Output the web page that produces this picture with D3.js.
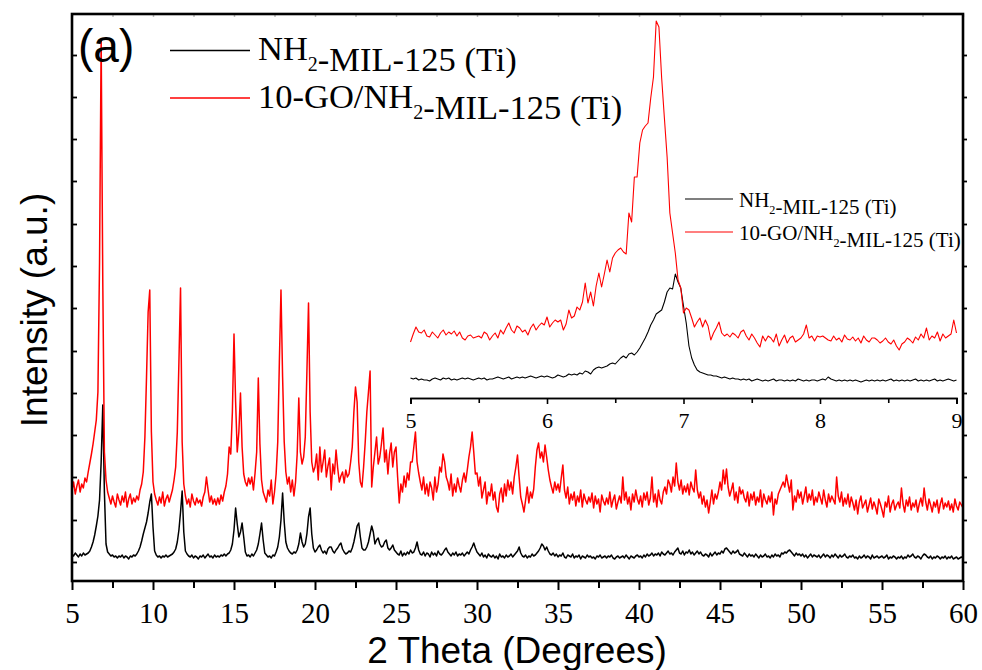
<!DOCTYPE html>
<html>
<head>
<meta charset="utf-8">
<script src="https://cdn.jsdelivr.net/npm/d3@7"></script>
<style>
  body { margin: 0; background: #fff; }
  svg { display: block; }
  .serif-text text { font-family: "Liberation Serif", "Times New Roman", serif; }
</style>
</head>
<body>
<svg id="chart" width="982" height="670"></svg>
<script>
// XRD patterns, 2θ scan from 5° to 60° in 0.1° steps, intensity in a.u.
const scanStart = 5;
const scanStep = 0.1;

const pristine = [
  8, 6, 9, 7, 5, 8, 6, 9, 7, 8,
  9, 11, 15, 20, 27, 36, 46, 62, 100, 157,
  70, 18, 10, 8, 6, 7, 5, 6, 4, 6,
  5, 7, 4, 6, 5, 3, 6, 5, 7, 6,
  8, 11, 15, 21, 28, 34, 40, 49, 60, 68,
  35, 11, 7, 5, 6, 4, 6, 5, 7, 5,
  6, 7, 8, 10, 13, 20, 32, 50, 71, 30,
  11, 8, 6, 5, 7, 4, 6, 5, 3, 6,
  5, 7, 4, 6, 8, 5, 6, 4, 7, 5,
  6, 5, 7, 6, 8, 6, 8, 9, 12, 18,
  32, 54, 38, 25, 30, 39, 25, 10, 6, 7,
  5, 8, 6, 9, 12, 18, 28, 39, 22, 9,
  7, 5, 6, 4, 7, 6, 10, 15, 25, 42,
  69, 40, 20, 14, 11, 9, 8, 10, 9, 12,
  18, 29, 20, 15, 18, 28, 45, 54, 28, 14,
  10, 12, 15, 17, 12, 9, 11, 8, 13, 15,
  15, 11, 9, 12, 14, 17, 19, 13, 10, 8,
  9, 11, 10, 14, 20, 28, 36, 39, 25, 14,
  12, 12, 15, 20, 28, 36, 30, 18, 22, 24,
  18, 15, 16, 20, 22, 14, 12, 14, 17, 12,
  10, 8, 7, 11, 6, 9, 7, 10, 8, 12,
  9, 10, 14, 20, 12, 8, 7, 10, 6, 9,
  8, 5, 10, 7, 9, 6, 11, 8, 7, 9,
  12, 14, 10, 8, 6, 9, 7, 10, 6, 8,
  7, 9, 6, 8, 10, 8, 12, 15, 19, 14,
  10, 8, 6, 9, 5, 7, 4, 8, 6, 5,
  7, 4, 6, 3, 8, 5, 6, 4, 7, 5,
  6, 8, 5, 7, 9, 11, 15, 9, 6, 5,
  7, 4, 6, 5, 8, 6, 7, 9, 11, 14,
  18, 16, 12, 15, 11, 8, 7, 9, 6, 8,
  5, 7, 6, 9, 5, 4, 7, 6, 5, 8,
  4, 6, 5, 7, 3, 6, 5, 4, 7, 5,
  6, 4, 5, 3, 6, 5, 7, 4, 5, 6,
  4, 6, 5, 7, 4, 3, 5, 6, 4, 5,
  6, 4, 7, 5, 3, 6, 5, 4, 6, 7,
  5, 6, 4, 7, 5, 8, 6, 7, 9, 6,
  8, 7, 9, 6, 10, 8, 7, 9, 11, 8,
  9, 7, 10, 12, 14, 9, 8, 11, 7, 10,
  9, 12, 8, 10, 7, 9, 11, 8, 10, 7,
  6, 8, 7, 5, 9, 6, 8, 10, 7, 9,
  8, 11, 9, 13, 14, 12, 10, 8, 11, 9,
  10, 12, 8, 7, 6, 9, 7, 5, 8, 6,
  7, 5, 8, 6, 4, 7, 5, 6, 8, 5,
  6, 4, 7, 5, 8, 6, 7, 5, 9, 8,
  10, 9, 11, 12, 10, 8, 6, 9, 7, 8,
  6, 8, 5, 7, 4, 6, 8, 5, 7, 6,
  5, 7, 4, 6, 8, 5, 7, 6, 4, 7,
  5, 8, 6, 4, 7, 5, 6, 8, 5, 4,
  6, 5, 7, 4, 5, 3, 6, 4, 5, 7,
  4, 6, 5, 3, 7, 4, 5, 6, 4, 5,
  6, 4, 5, 7, 3, 5, 4, 6, 5, 3,
  5, 4, 6, 3, 5, 4, 7, 5, 6, 8,
  5, 4, 6, 5, 3, 6, 8, 7, 5, 4,
  6, 3, 5, 4, 6, 5, 3, 5, 4, 6,
  3, 5, 4, 6, 3, 4, 5, 3, 4, 5,
  4
];

const composite = [
  72, 80, 68, 76, 82, 70, 78, 74, 84, 80,
  90, 99, 108, 118, 130, 142, 170, 300, 522, 280,
  110, 82, 70, 64, 58, 66, 60, 55, 68, 62,
  57, 66, 60, 70, 55, 63, 68, 58, 64, 60,
  66, 62, 72, 78, 90, 125, 185, 250, 272, 130,
  80, 68, 62, 57, 65, 59, 70, 56, 63, 67,
  60, 66, 72, 82, 95, 130, 200, 274, 120, 78,
  66, 58, 63, 55, 68, 61, 57, 64, 59, 62,
  56, 65, 70, 85, 72, 60, 66, 58, 63, 57,
  64, 58, 67, 61, 70, 76, 88, 115, 108, 150,
  228, 160, 110, 130, 169, 115, 88, 80, 76, 84,
  78, 85, 72, 89, 110, 184, 118, 82, 70, 65,
  60, 72, 66, 82, 58, 70, 88, 120, 200, 272,
  185, 120, 90, 78, 85, 70, 82, 66, 80, 108,
  164, 110, 98, 105, 125, 190, 259, 150, 100, 90,
  95, 108, 82, 115, 90, 100, 112, 85, 96, 104,
  72, 98, 88, 112, 94, 80, 86, 90, 79, 92,
  85, 88, 100, 115, 150, 175, 160, 100, 80, 75,
  95, 120, 150, 170, 191, 75, 95, 110, 125, 98,
  105, 118, 134, 100, 112, 88, 108, 119, 95, 110,
  115, 85, 59, 78, 70, 86, 75, 89, 82, 100,
  100, 115, 130, 100, 89, 80, 72, 85, 68, 78,
  66, 80, 74, 62, 85, 70, 78, 95, 90, 108,
  100, 85, 80, 72, 88, 66, 78, 70, 84, 76,
  70, 82, 89, 80, 92, 105, 115, 130, 110, 88,
  89, 76, 85, 64, 72, 80, 58, 70, 66, 78,
  62, 70, 55, 50, 68, 74, 60, 78, 66, 82,
  72, 80, 68, 85, 95, 107, 85, 65, 58, 50,
  62, 75, 59, 70, 64, 73, 95, 112, 119, 104,
  110, 100, 117, 105, 92, 82, 75, 69, 80, 72,
  78, 70, 84, 97, 72, 64, 75, 58, 68, 62,
  70, 56, 66, 60, 72, 55, 68, 62, 58, 65,
  60, 69, 54, 66, 58, 63, 50, 67, 61, 57,
  64, 58, 70, 55, 62, 67, 53, 60, 66, 59,
  85, 62, 70, 58, 65, 52, 68, 60, 72, 63,
  58, 66, 55, 69, 62, 70, 57, 64, 85, 60,
  68, 55, 72, 62, 58, 70, 75, 68, 82, 78,
  70, 85, 76, 99, 80, 72, 82, 68, 76, 70,
  78, 67, 80, 74, 70, 92, 72, 64, 70, 58,
  66, 55, 62, 49, 60, 72, 58, 68, 63, 70,
  80, 72, 92, 78, 93, 75, 66, 72, 79, 62,
  70, 59, 75, 68, 72, 64, 60, 70, 56, 68,
  62, 70, 57, 65, 60, 72, 55, 68, 62, 58,
  66, 60, 70, 47, 63, 58, 68, 72, 76, 80,
  75, 87, 78, 70, 82, 52, 66, 60, 72, 64,
  70, 58, 66, 75, 60, 68, 62, 72, 57, 65,
  60, 70, 64, 58, 72, 62, 55, 68, 60, 66,
  62, 58, 85, 66, 60, 70, 56, 64, 58, 68,
  55, 65, 59, 52, 62, 48, 60, 66, 54, 58,
  62, 50, 57, 64, 53, 60, 55, 48, 63, 58,
  52, 45, 60, 55, 66, 50, 58, 62, 52, 57,
  60, 54, 74, 58, 50, 62, 56, 65, 52, 59,
  55, 62, 50, 58, 64, 56, 74, 60, 52, 63,
  57, 50, 60, 55, 62, 49, 58, 64, 53, 59,
  55, 61, 52, 58, 50, 63, 56, 52, 60, 57,
  54
];

// Low-angle detail, 2θ from 5° to 9° in 0.02° steps
const detailStart = 5;
const detailStep = 0.02;

const pristineDetail = [
  20, 19, 20, 18, 19, 18, 18, 17, 19, 20,
  19, 18, 20, 19, 20, 18, 19, 18, 19, 20,
  19, 20, 19, 18, 19, 20, 19, 20, 18, 19,
  19, 20, 21, 20, 19, 20, 21, 19, 20, 21,
  20, 21, 20, 21, 22, 21, 20, 21, 22, 21,
  22, 21, 20, 21, 23, 22, 21, 22, 24, 23,
  24, 23, 25, 24, 27, 26, 24, 28, 30, 31,
  30, 31, 32, 34, 35, 34, 37, 40, 42, 40,
  44, 45, 43, 46, 50, 55, 60, 66, 73, 78,
  84, 86, 88, 96, 106, 110, 109, 124, 116, 110,
  92, 75, 52, 40, 33, 28, 26, 25, 24, 23,
  23, 22, 22, 21, 20, 21, 20, 19, 20, 19,
  19, 18, 19, 18, 19, 17, 18, 19, 18, 17,
  18, 17, 18, 19, 17, 18, 18, 17, 18, 17,
  18, 17, 19, 18, 17, 18, 17, 18, 18, 17,
  18, 19, 18, 21, 19, 18, 17, 18, 17, 18,
  17, 18, 17, 18, 17, 16, 17, 18, 17, 18,
  17, 18, 17, 18, 17, 18, 19, 17, 18, 17,
  18, 17, 18, 17, 18, 19, 17, 18, 17, 18,
  17, 18, 19, 17, 18, 17, 18, 19, 18, 17,
  18
];

const compositeDetail = [
  56, 64, 71, 66, 65, 68, 62, 61, 66, 63,
  60, 65, 68, 63, 66, 64, 67, 62, 66, 60,
  58, 62, 63, 60, 61, 62, 60, 66, 64, 58,
  62, 65, 60, 68, 64, 70, 75, 68, 65, 72,
  70, 66, 68, 63, 70, 74, 68, 72, 75, 73,
  81, 71, 75, 78, 76, 78, 68, 74, 88, 80,
  82, 91, 88, 96, 115, 95, 106, 92, 112, 125,
  111, 124, 138, 126, 140, 145, 148, 150, 146, 144,
  185, 176, 221, 221, 255, 268, 272, 275, 300, 321,
  377, 371, 320, 280, 241, 185, 165, 145, 118, 110,
  85, 90, 88, 80, 71, 76, 80, 71, 78, 72,
  58, 65, 70, 76, 65, 62, 64, 61, 65, 63,
  60, 66, 68, 62, 58, 64, 60, 55, 51, 62,
  57, 62, 60, 56, 64, 52, 58, 63, 55, 60,
  62, 56, 58, 60, 64, 73, 60, 62, 57, 62,
  61, 62, 60, 58, 57, 62, 58, 60, 56, 63,
  59, 58, 61, 57, 60, 55, 62, 58, 56, 60,
  60, 58, 55, 57, 60, 56, 54, 58, 52, 48,
  54, 56, 60, 58, 55, 61, 58, 64, 60, 70,
  58, 62, 60, 66, 57, 64, 60, 62, 64, 78,
  65
];

const seriesLabels = ["NH2-MIL-125 (Ti)", "10-GO/NH2-MIL-125 (Ti)"];
const seriesColors = ["#000000", "#ff0000"];

const xTicksMain = [5, 10, 15, 20, 25, 30, 35, 40, 45, 50, 55, 60];
const xMinorMain = [7.5, 12.5, 17.5, 22.5, 27.5, 32.5, 37.5, 42.5, 47.5, 52.5, 57.5];
const yTicksMain = [0, 42, 85, 127, 169, 211, 254, 296, 338, 381, 423, 465, 507];
const xTicksInset = [5, 6, 7, 8, 9];
const xMinorInset = [5.5, 6.5, 7.5, 8.5];

const serif = "'Liberation Serif', 'Times New Roman', serif";
const sans = "'Liberation Sans', Arial, sans-serif";

const svg = d3.select("#chart");

// Main plot frame
const plot = { left: 72, right: 963, top: 14, bottom: 581 };
const x = d3.scaleLinear().domain([5, 60]).range([plot.left, plot.right]);
const y = d3.scaleLinear().domain([-19, 548]).range([plot.bottom, plot.top]);

// Inset frame (low-angle region)
const inset = { left: 410.5, right: 956.5, axisY: 398 };
const xi = d3.scaleLinear().domain([5, 9]).range([inset.left, inset.right]);
const yi = d3.scaleLinear().domain([0, 386]).range([inset.axisY, 12]);

const toPoints = (vals, start, step) => vals.map((v, i) => [start + i * step, v]);

const lineMain = d3.line().x(d => x(d[0])).y(d => y(d[1]));
const lineInset = d3.line().x(d => xi(d[0])).y(d => yi(d[1]));

// Patterns
[pristine, composite].forEach((vals, k) => {
  svg.append("path")
    .datum(toPoints(vals, scanStart, scanStep))
    .attr("d", lineMain)
    .attr("fill", "none")
    .attr("stroke", seriesColors[k])
    .attr("stroke-width", 1.5)
    .attr("stroke-linejoin", "round");
});

[pristineDetail, compositeDetail].forEach((vals, k) => {
  svg.append("path")
    .datum(toPoints(vals, detailStart, detailStep))
    .attr("d", lineInset)
    .attr("fill", "none")
    .attr("stroke", seriesColors[k])
    .attr("stroke-width", 1.1)
    .attr("stroke-linejoin", "round");
});

// Bottom axis
const gx = svg.append("g").attr("class", "serif-text").attr("transform", `translate(0,${plot.bottom})`);
gx.call(d3.axisBottom(x).tickValues(xTicksMain).tickSize(9).tickPadding(12).tickFormat(d3.format("d")));
gx.append("g").call(d3.axisBottom(x).tickValues(xMinorMain).tickSize(7).tickFormat(""));
gx.attr("font-family", serif).attr("font-size", 29);
gx.selectAll(".domain").remove();
gx.selectAll("line").attr("stroke", "#000").attr("stroke-width", 2);
gx.selectAll("text")
  .style("font-family", serif).style("font-size", "29px").attr("fill", "#000");

// Top axis (minor marks only)
const gt = svg.append("g").attr("transform", `translate(0,${plot.top})`);
gt.call(d3.axisTop(x).tickValues(xTicksMain.concat(xMinorMain)).tickSize(-3).tickFormat(""));
gt.selectAll(".domain").remove();
gt.selectAll("line").attr("stroke", "#bbb").attr("stroke-width", 1.5);

// Left axis, inward ticks
const gl = svg.append("g").attr("transform", `translate(${plot.left},0)`);
gl.call(d3.axisLeft(y).tickValues(yTicksMain).tickSize(-5).tickFormat(""));
gl.selectAll(".domain").remove();
gl.selectAll("line").attr("stroke", "#000").attr("stroke-width", 1.8);

// Right axis, outward ticks
const gr = svg.append("g").attr("transform", `translate(${plot.right},0)`);
gr.call(d3.axisRight(y).tickValues(yTicksMain).tickSize(4).tickFormat(""));
gr.selectAll(".domain").remove();
gr.selectAll("line").attr("stroke", "#000").attr("stroke-width", 1.8);

// Frame
svg.append("rect")
  .attr("x", plot.left).attr("y", plot.top)
  .attr("width", plot.right - plot.left).attr("height", plot.bottom - plot.top)
  .attr("fill", "none").attr("stroke", "#000").attr("stroke-width", 2.6);

// Inset axis
const gi = svg.append("g").attr("class", "serif-text").attr("transform", `translate(0,${inset.axisY})`);
gi.call(d3.axisBottom(xi).tickValues(xTicksInset).tickSize(6).tickPadding(8).tickFormat(d3.format("d")));
gi.append("g").call(d3.axisBottom(xi).tickValues(xMinorInset).tickSize(5).tickFormat(""));
gi.attr("font-family", serif).attr("font-size", 22);
gi.selectAll(".domain").attr("stroke", "#000").attr("stroke-width", 1.6);
gi.selectAll("line").attr("stroke", "#000").attr("stroke-width", 1.6);
gi.selectAll("text")
  .style("font-family", serif).style("font-size", "22px").attr("fill", "#000");

// Axis titles
svg.append("text")
  .attr("x", 517).attr("y", 663)
  .attr("text-anchor", "middle")
  .style("font-family", sans).style("font-size", "37px")
  .text("2 Theta (Degrees)");

svg.append("text")
  .attr("transform", "translate(47,310) rotate(-90)")
  .attr("text-anchor", "middle")
  .style("font-family", sans).style("font-size", "37px")
  .text("Intensity (a.u.)");

// Panel label
svg.append("text")
  .attr("x", 78).attr("y", 62)
  .style("font-family", sans).style("font-size", "46px")
  .text("(a)");

// Legends
function labelText(sel, label, subSize, subShift) {
  const parts = label.split("NH2");
  parts.forEach((p, i) => {
    sel.append("tspan").text(p + (i < parts.length - 1 ? "NH" : ""));
    if (i < parts.length - 1) {
      sel.append("tspan").style("font-size", subSize + "px").attr("dy", subShift).text("2");
      sel.append("tspan").attr("dy", -subShift).text("");
    }
  });
}

function legend(cfg) {
  seriesLabels.forEach((label, k) => {
    const cy = cfg.lineY[k];
    svg.append("line")
      .attr("x1", cfg.x1).attr("x2", cfg.x2).attr("y1", cy).attr("y2", cy)
      .attr("stroke", seriesColors[k]).attr("stroke-width", cfg.stroke);
    const t = svg.append("text")
      .attr("x", cfg.textX).attr("y", cfg.baseY[k])
      .style("font-family", serif).style("font-size", cfg.size + "px").attr("fill", "#000");
    labelText(t, label, cfg.size * 0.58, cfg.size * 0.33);
  });
}

legend({ x1: 170, x2: 250, textX: 258, lineY: [50.5, 98], baseY: [60, 108], size: 34.5, stroke: 1.4 });
legend({ x1: 685, x2: 733, textX: 739, lineY: [199, 232], baseY: [207, 240], size: 21, stroke: 1.1 });
</script>
</body>
</html>
